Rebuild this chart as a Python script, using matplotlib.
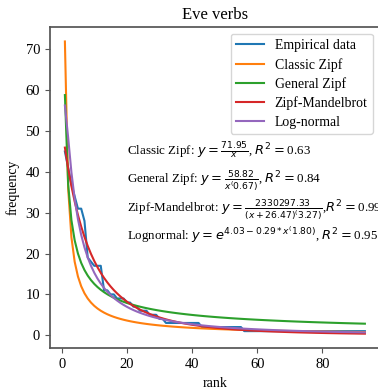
import numpy as np
import matplotlib
matplotlib.use("Agg")
import matplotlib.pyplot as plt

plt.rcParams['font.family'] = ['Liberation Serif', 'DejaVu Serif']
plt.rcParams['mathtext.fontset'] = 'dejavusans'

# empirical frequency per rank
freq = [45, 41, 37, 34, 31, 31, 28, 19, 18, 17, 17, 17, 11, 11, 10, 10, 9, 9, 9,
        8, 8, 7, 7, 6, 6, 6, 5, 5, 5, 4, 4] + [3] * 11 + [2] * 13 + [1] * 38
rank = np.arange(1, len(freq) + 1)

# fitted parameters shown in the annotations
zipf_a = 71.95
gzipf_a, gzipf_b = 58.82, 0.67
zm_a, zm_b, zm_c = 2330297.33, 26.47, 3.27
ln_a, ln_b, ln_c = 4.03, 0.29, 1.80
r2 = {"classic": 0.63, "general": 0.84, "zm": 0.99, "ln": 0.95}

fig = plt.figure(figsize=(3.78, 3.92), dpi=100)
ax = fig.add_axes([0.132, 0.1115, 0.873, 0.820])

ax.plot(rank, freq, label="Empirical data")
ax.plot(rank, zipf_a / rank, label="Classic Zipf")
ax.plot(rank, gzipf_a / rank ** gzipf_b, label="General Zipf")
ax.plot(rank, zm_a / (rank + zm_b) ** zm_c, label="Zipf-Mandelbrot")
ax.plot(rank, np.exp(ln_a - ln_b * np.log(rank) ** ln_c), label="Log-normal")

fs = 9.4
ax.text(20, 45.3, r"Classic Zipf: $y = \frac{%.2f}{x}$, $R^2 = $%.2f" % (zipf_a, r2["classic"]),
        fontsize=fs, va="center")
ax.text(20, 37.7, r"General Zipf: $y = \frac{%.2f}{x^(%.2f)}$, $R^2 = $%.2f" % (gzipf_a, gzipf_b, r2["general"]),
        fontsize=fs, va="center")
ax.text(20, 30.5, r"Zipf-Mandelbrot: $y = \frac{%.2f}{(x + %.2f)^(%.2f)}$,$R^2 = $%.2f" % (zm_a, zm_b, zm_c, r2["zm"]),
        fontsize=fs, va="center")
ax.text(20, 24.5, r"Lognormal: $y = e^{%.2f - %.2f * x^(%.2f)}$, $R^2 = $%.2f" % (ln_a, ln_b, ln_c, r2["ln"]),
        fontsize=fs, va="center")

ax.set_title("Eve verbs", fontsize=12)
ax.set_xlabel("rank", fontsize=10)
ax.set_ylabel("frequency", fontsize=10)
ax.set_xticks([0, 20, 40, 60, 80])
ax.tick_params(labelsize=10.5, color="#555555")
for s in ax.spines.values():
    s.set_color("#555555")
    s.set_linewidth(1.25)
ax.legend(loc="upper right", fontsize=9.9, labelspacing=0.4)

fig.savefig("out.png", dpi=100)
